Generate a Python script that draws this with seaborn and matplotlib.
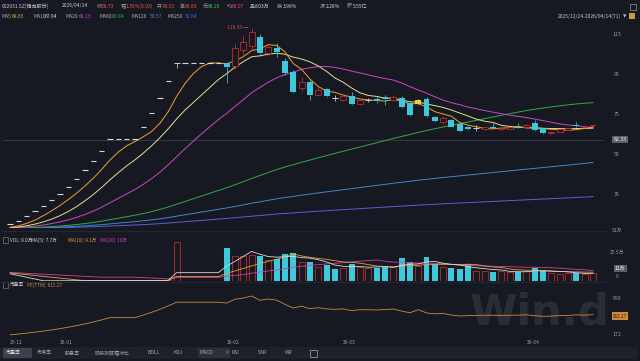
import numpy as np
import pandas as pd
import matplotlib
matplotlib.use("Agg")
import matplotlib.pyplot as plt
import seaborn as sns
from matplotlib.patches import Rectangle

sns.set_theme(style="dark")
plt.rcParams['font.family'] = ['Noto Sans CJK SC', 'DejaVu Sans']
plt.rcParams['axes.unicode_minus'] = False

# ---------------- data ----------------
holidays = ["2026-01-01", "2026-01-02", "2026-02-16", "2026-02-17", "2026-02-18",
            "2026-02-19", "2026-02-20", "2026-02-23", "2026-04-06"]
dates = [d for d in pd.bdate_range("2025-12-24", "2026-04-14")
         if d.strftime("%Y-%m-%d") not in holidays]

opens = [19.91, 21.90, 24.09, 26.50, 29.15, 32.07, 35.28, 38.81, 42.69, 46.96,
         51.66, 56.83, 62.51, 62.51, 62.51, 62.51, 68.76, 75.64, 83.20, 91.52,
         100.67, 100.67, 100.67, 100.67, 100.67, 100.67, 100.67, 99.0, 107.0, 109.0,
         113.8, 105.7, 108.0, 101.8, 96.3, 88.0, 91.3, 84.8, 87.6, 83.0,
         82.2, 84.1, 80.3, 82.0, 82.8, 83.6, 82.0, 83.0, 80.5, 80.2,
         82.6, 73.5, 71.0, 72.2, 70.0, 68.5, 68.0, 67.6, 68.5, 67.6,
         67.9, 69.0, 68.6, 70.8, 68.0, 65.8, 66.3, 67.4, 69.4, 68.6, 69.51]
highs = [19.91, 21.90, 24.09, 26.50, 29.15, 32.07, 35.28, 38.81, 42.69, 46.96,
         51.66, 56.83, 62.51, 62.51, 62.51, 62.51, 68.76, 75.64, 83.20, 91.52,
         100.67, 100.67, 100.67, 100.67, 100.67, 100.67, 100.9, 110.0, 114.0, 118.33,
         115.2, 110.0, 110.6, 103.0, 97.0, 93.5, 92.0, 88.6, 88.0, 84.5,
         85.0, 86.0, 83.0, 83.0, 83.5, 84.5, 84.5, 84.0, 81.0, 82.6,
         83.8, 74.0, 74.0, 72.5, 70.5, 69.0, 69.5, 68.8, 70.6, 68.5,
         68.8, 70.6, 70.0, 72.2, 68.3, 66.8, 67.8, 68.4, 71.2, 69.5, 69.83]
lows = [19.91, 21.90, 24.09, 26.50, 29.15, 32.07, 35.28, 38.81, 42.69, 46.96,
        51.66, 56.83, 62.51, 62.51, 62.51, 62.51, 68.76, 75.64, 83.20, 91.52,
        98.0, 100.67, 100.67, 100.67, 100.67, 100.67, 90.6, 97.5, 104.5, 107.0,
        104.0, 104.0, 103.6, 94.5, 85.5, 86.5, 82.2, 84.0, 83.5, 81.5,
        81.5, 79.5, 79.8, 81.0, 80.8, 79.6, 81.5, 78.0, 74.0, 79.8,
        73.5, 71.2, 70.0, 68.5, 66.0, 67.0, 66.5, 67.0, 67.5, 67.0,
        67.5, 68.2, 68.0, 66.8, 65.0, 65.4, 66.0, 67.0, 68.5, 68.2, 68.26]
closes = [19.91, 21.90, 24.09, 26.50, 29.15, 32.07, 35.28, 38.81, 42.69, 46.96,
          51.66, 56.83, 62.51, 62.51, 62.51, 62.51, 68.76, 75.64, 83.20, 91.52,
          100.67, 100.67, 100.67, 100.67, 100.67, 100.67, 98.5, 108.0, 111.0, 116.0,
          105.5, 108.6, 106.0, 95.5, 86.3, 91.0, 84.7, 87.0, 84.2, 83.0,
          84.0, 80.1, 82.0, 82.0, 81.5, 82.5, 83.8, 78.8, 74.6, 82.2,
          74.2, 71.8, 73.0, 68.8, 66.6, 67.5, 68.0, 68.5, 68.3, 68.1,
          68.5, 68.6, 69.6, 67.2, 65.8, 66.2, 67.5, 68.0, 69.3, 68.8, 69.73]
# volume in 万手 (nan = suspended)
volumes = [0.3, 0.2, 0.2, 0.2, 0.3, 0.3, 0.3, 0.4, 0.4, 0.5,
           0.5, 0.6, np.nan, np.nan, np.nan, np.nan, 0.5, 0.6, 0.7, 0.9,
           39.0, np.nan, np.nan, np.nan, np.nan, np.nan, 32.7, 25.0, 25.0, 26.0,
           25.3, 21.0, 22.0, 27.0, 27.7, 19.0, 18.7, 14.0, 16.0, 12.0,
           13.0, 17.0, 14.0, 13.0, 13.3, 14.3, 14.0, 23.3, 18.7, 15.0,
           24.3, 16.7, 14.0, 13.3, 11.7, 16.7, 10.0, 10.0, 8.7, 10.0,
           9.0, 8.7, 10.0, 12.7, 10.3, 8.0, 7.0, 8.0, 7.7, 7.5, 8.03]
prior_close = 18.10      # level before the first limit-up (left edge of MA lines)
prior_volume = 9.0       # level of the volume MAs at the left edge
marked_date = "2026-03-13"
pe_ttm_last = 615.27
price_ticks = [115, 95, 75, 55, 35]
crosshair_value = 62.33
peak_label = "118.33"

header_items = [("002931.SZ(锋龙股份)", "#c8c8c8", 2), ("2026/04/14", "#c8c8c8", 62),
                ("收", "#9a9a9a", 97), ("69.73", "#ff4a4a", 102),
                ("幅", "#9a9a9a", 121), ("1.35%(0.93)", "#ff4a4a", 126),
                ("开", "#9a9a9a", 157), ("69.51", "#ff4a4a", 163),
                ("高", "#9a9a9a", 180), ("69.83", "#ff4a4a", 185),
                ("低", "#9a9a9a", 203), ("68.26", "#3cc060", 208),
                ("均", "#9a9a9a", 227), ("69.07", "#ff4a4a", 232),
                ("量", "#9a9a9a", 250), ("8.03万", "#d8d8d8", 255),
                ("换", "#9a9a9a", 277), ("3.99%", "#d8d8d8", 283),
                ("振", "#9a9a9a", 320), ("2.28%", "#d8d8d8", 326),
                ("额", "#9a9a9a", 347), ("5.55亿", "#d8d8d8", 353)]
ma_items = [("MA5", "68.65", "#f0a030", 2, 12), ("MA10", "67.94", "#e8dc90", 33, 45),
            ("MA20", "68.13", "#c848c8", 66, 79), ("MA60", "80.84", "#34a848", 99, 112),
            ("MA120", "50.57", "#3f86cc", 132, 150), ("MA250", "32.64", "#5860d8", 167, 185)]
vol_items = [("VOL: 8.0万", "#d0d0d0", 10), ("MA(5): 7.7万", "#d0d0d0", 31),
             ("MA(10): 9.1万", "#e0a040", 68), ("MA(20): 10万", "#d040b8", 100)]
vol_ticks = ["51万", "25.5万", "0"]
pe_ticks = ["650", "172"]
tabs = [("市盈率", 6), ("市净率", 37), ("股息率", 65), ("阶段涨跌幅对比", 95),
        ("BOLL", 147), ("KDJ", 173), ("MACD", 200), ("RSI", 232),
        ("SAR", 258), ("WR", 285)]

# ---------------- derived ----------------
n = len(closes)
idx = np.arange(n)
o = np.array(opens); h = np.array(highs); l = np.array(lows); c = np.array(closes)
prev_c = np.r_[prior_close, c[:-1]]
is_up = (c > o) | ((c == o) & (c >= prev_c))
marked = np.array([d.strftime("%Y-%m-%d") == marked_date for d in dates])

ext = pd.Series([prior_close] * 249 + closes)
mas = {w: ext.rolling(w).mean().iloc[249:].to_numpy() for w in (5, 10, 20, 60, 120, 250)}

vol = pd.Series(volumes)
vext = pd.Series([prior_volume] * 19 + list(vol.dropna()))
vol_ma = {}
for w in (5, 10, 20):
    m = vext.rolling(w).mean().iloc[19:]
    m.index = vol.dropna().index
    vol_ma[w] = m.reindex(vol.index).ffill().to_numpy()

pe = c / (c[-1] / pe_ttm_last)

month_first = []
seen = set()
for i, d in enumerate(dates):
    key = d.strftime("%y-%m")
    if key not in seen:
        seen.add(key)
        month_first.append((i, key))

# ---------------- figure ----------------
BG = "#161922"
RED = "#d83030"
CYAN = "#3ec8dc"
W, H = 640, 361
fig = plt.figure(figsize=(W / 100, H / 100), dpi=100, facecolor=BG)


def fx(x):
    return x / W


def fy(y):
    return 1 - y / H


PX_DAY = 8.33
X0 = 10
L_PX, R_PX = 3, 603
xlim = ((L_PX - X0) / PX_DAY, (R_PX - X0) / PX_DAY)

ax = fig.add_axes([fx(L_PX), fy(228), (R_PX - L_PX) / W, 200 / H])
axv = fig.add_axes([fx(L_PX), fy(281), (R_PX - L_PX) / W, 49 / H])
axp = fig.add_axes([fx(L_PX), fy(340), (R_PX - L_PX) / W, 58 / H])
for a in (ax, axv, axp):
    a.set_facecolor(BG)
    a.set_xlim(*xlim)
    for s in a.spines.values():
        s.set_visible(False)
    a.set_xticks([]); a.set_yticks([])
    a.grid(False)

ax.set_ylim(18.15, 118.15)
axv.set_ylim(0, 49)
axp.set_ylim(62.7, 1330)

# watermark (behind the PE line)
axp.text((540 - L_PX) / (R_PX - L_PX), 0.47, "Win.d", transform=axp.transAxes, ha="center", va="center",
         fontsize=31, fontweight="bold", color="#ffffff", alpha=0.09, family="DejaVu Sans", zorder=1)

# crosshair
ax.axhline(crosshair_value, color="#3a3e4a", lw=0.6, zorder=1)

# MA lines
ma_colors = {5: "#f0a030", 10: "#e8dc90", 20: "#c848c8", 60: "#34a848", 120: "#3f86cc", 250: "#5860d8"}
for w in (250, 120, 60, 20, 10, 5):
    sns.lineplot(x=idx, y=mas[w], ax=ax, color=ma_colors[w], linewidth=0.7, legend=False, zorder=2)

# candles
BW = 0.72
body_lo = np.minimum(o, c); body_hi = np.maximum(o, c)
flat = (o == c)
up = (c > o) & ~marked
down = (c < o) & ~marked
DOJI = "#d0d0d0"
wick_col = np.where(marked, "#e8d040", np.where(flat, DOJI, np.where(is_up, RED, CYAN)))
ax.vlines(idx, l, body_lo, colors=wick_col, linewidth=0.55, zorder=3)
ax.vlines(idx, body_hi, h, colors=wick_col, linewidth=0.55, zorder=3)
ax.bar(idx[up], (c - o)[up], bottom=o[up], width=BW, facecolor=BG, edgecolor=RED, linewidth=0.5, zorder=4)
ax.bar(idx[down], (o - c)[down], bottom=c[down], width=BW, color=CYAN, linewidth=0, zorder=4)
ax.bar(idx[marked], (body_hi - body_lo)[marked], bottom=body_lo[marked], width=BW, color="#e8d040", linewidth=0, zorder=4)
one_word = flat & (h == l)
doji = flat & ~one_word
ax.hlines(c[one_word], idx[one_word] - 0.33, idx[one_word] + 0.33, colors="#d8d8d8", linewidth=0.8, zorder=4)
ax.hlines(c[doji], idx[doji] - 0.36, idx[doji] + 0.36, colors=DOJI, linewidth=0.7, zorder=4)

# peak label
ip = int(np.argmax(h))
ax.annotate(peak_label + " ─", xy=(ip - 0.4, h[ip]), xytext=(ip - 0.4, h[ip]),
            ha="right", va="center", fontsize=3.6, color="#d84848", zorder=6)

# price labels
for t in price_ticks:
    ax.text((617 - L_PX) / (R_PX - L_PX), t, str(t), transform=ax.get_yaxis_transform(),
            ha="center", va="center", fontsize=3.8, color="#9a9a9a", clip_on=False)
ax.text((620 - L_PX) / (R_PX - L_PX), crosshair_value, f"{crosshair_value:.2f}", transform=ax.get_yaxis_transform(),
        ha="center", va="center", fontsize=3.8, color="#f0f0f0", clip_on=False,
        bbox=dict(boxstyle="square,pad=0.25", fc="#5c5f68", ec="none"))

# volume
vv = np.array(volumes, dtype=float)
ok = ~np.isnan(vv)
vup = ok & is_up
vdn = ok & ~is_up
axv.bar(idx[vup], vv[vup], width=BW, facecolor=BG, edgecolor=RED, linewidth=0.5, zorder=3)
axv.bar(idx[vdn], vv[vdn], width=BW, color=CYAN, linewidth=0, zorder=3)
vcol = {5: "#d8d8d8", 10: "#e0a040", 20: "#d040a0"}
for w in (20, 10, 5):
    sns.lineplot(x=idx, y=vol_ma[w], ax=axv, color=vcol[w], linewidth=0.6, legend=False, zorder=4)
for lab, yv in zip(vol_ticks, (230, 252, 277)):
    fig.text(fx(617), fy(yv), lab, ha="center", va="center", fontsize=3.6, color="#9a9a9a")
fig.text(fx(620), fy(268.5), "12万", ha="center", va="center", fontsize=3.6, color="#f0f0f0",
         bbox=dict(boxstyle="square,pad=0.25", fc="#5c5f68", ec="none"))

# PE
sns.lineplot(x=idx, y=pe, ax=axp, color="#d08a3a", linewidth=0.6, legend=False, zorder=3)
for lab, yv in zip(pe_ticks, (299, 334)):
    fig.text(fx(617), fy(yv), lab, ha="center", va="center", fontsize=3.8, color="#9a9a9a")
fig.text(fx(620), fy(316), f"{pe[-1]:.2f}", ha="center", va="center", fontsize=3.4, color="#1a1a1a",
         bbox=dict(boxstyle="square,pad=0.25", fc="#d08a3a", ec="none"))

# separators
for yy in (231, 282):
    fig.add_artist(plt.Line2D([fx(0), fx(607)], [fy(yy), fy(yy)], color="#262a34", lw=0.6))

# header
HF = 3.6
for txt, col, x in header_items:
    fig.text(fx(x), fy(6), txt, ha="left", va="center", fontsize=HF, color=col)
for name, val, col, x1, x2 in ma_items:
    fig.text(fx(x1), fy(16), name, ha="left", va="center", fontsize=HF, color="#b0b0b0")
    fig.text(fx(x2), fy(16), val, ha="left", va="center", fontsize=HF, color=col)
fig.text(fx(621), fy(16), "2025/12/24-2026/04/14(71)", ha="right", va="center", fontsize=HF, color="#c8c8c8")
fig.text(fx(625), fy(16), "▼", ha="center", va="center", fontsize=3.2, color="#c8c8c8", family="DejaVu Sans")
fig.add_artist(Rectangle((fx(629), fy(19)), 6 / W, 6 / H, fc="#c89a40", ec="none"))
fig.add_artist(Rectangle((fx(630), fy(10)), 6 / W, 6 / H, fc="none", ec="#9a9a9a", lw=0.5))

# panel labels
PF = 3.4
fig.add_artist(Rectangle((fx(3), fy(243)), 5 / W, 6 / H, fc="none", ec="#8a8a8a", lw=0.4))
for txt, col, x in vol_items:
    fig.text(fx(x), fy(240), txt, ha="left", va="center", fontsize=PF, color=col)
fig.add_artist(Rectangle((fx(3), fy(288)), 5 / W, 6 / H, fc="none", ec="#8a8a8a", lw=0.4))
fig.text(fx(10), fy(285), "市盈率", ha="left", va="center", fontsize=PF, color="#d0d0d0")
fig.text(fx(27), fy(285), f"PE(TTM): {pe_ttm_last:.2f}", ha="left", va="center", fontsize=PF, color="#d08a3a")

# date labels
for i, key in month_first:
    fig.text(fx(X0 + PX_DAY * i), fy(343), key, ha="left", va="center", fontsize=3.6, color="#9a9a9a")

# bottom tab bar
fig.add_artist(Rectangle((fx(0), fy(359)), 637 / W, 12 / H, fc="#1e212a", ec="none"))
fig.add_artist(Rectangle((fx(3), fy(358)), 29 / W, 10 / H, fc="#3c404c", ec="none"))
fig.add_artist(Rectangle((fx(198), fy(358)), 32 / W, 10 / H, fc="#2c303a", ec="none"))
for txt, x in tabs:
    fig.text(fx(x), fy(353), txt, ha="left", va="center", fontsize=3.6,
             color="#e8e8e8" if txt == "市盈率" else "#a8a8a8")
fig.text(fx(224), fy(353), "×", ha="left", va="center", fontsize=3.6, color="#a8a8a8")
fig.add_artist(Rectangle((fx(310), fy(357)), 7 / W, 7 / H, fc="none", ec="#a8a8a8", lw=0.5))

fig.savefig("out.png", dpi=100, facecolor=BG)
